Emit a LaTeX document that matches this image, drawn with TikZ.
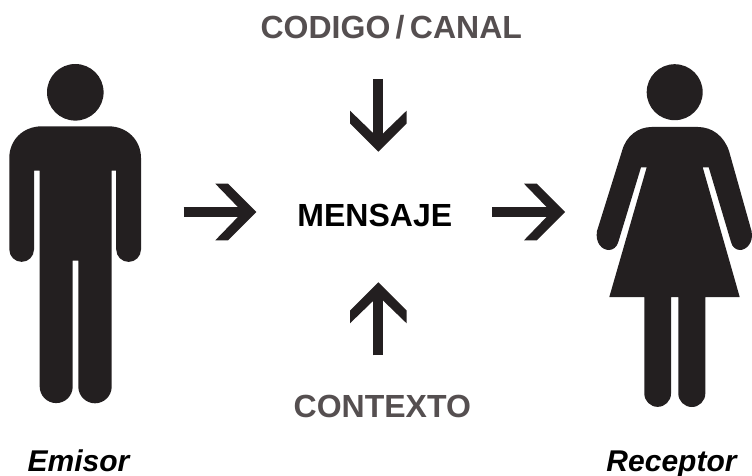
\documentclass[tikz,border=0pt]{standalone}
\usepackage{fontspec}
\setmainfont{Liberation Sans}
\usetikzlibrary{arrows.meta}
\definecolor{ink}{HTML}{231F20}
\definecolor{graytext}{HTML}{554F50}
\pgfdeclarearrow{
  name=SignHead,
  setup code={
    \pgfarrowssettipend{0pt}
    \pgfarrowssetlineend{-15pt}
    \pgfarrowssetvisualtipend{0pt}
    \pgfarrowssetbackend{-41pt}
    \pgfarrowssetvisualbackend{-15pt}
    \pgfarrowshullpoint{0pt}{0pt}
    \pgfarrowshullpoint{-41pt}{28.3pt}
    \pgfarrowshullpoint{-41pt}{-28.3pt}
  },
  drawing code={
    \pgfpathmoveto{\pgfqpoint{0pt}{0pt}}
    \pgfpathlineto{\pgfqpoint{-28.3pt}{28.3pt}}
    \pgfpathlineto{\pgfqpoint{-41pt}{28.3pt}}
    \pgfpathlineto{\pgfqpoint{-18.3pt}{4.85pt}}
    \pgfpathlineto{\pgfqpoint{-18.3pt}{-4.85pt}}
    \pgfpathlineto{\pgfqpoint{-41pt}{-28.3pt}}
    \pgfpathlineto{\pgfqpoint{-28.3pt}{-28.3pt}}
    \pgfpathclose
    \pgfusepathqfill
  }
}
\tikzset{
  silhouette/.style={fill=ink,draw=none},
  flow/.style={draw=ink,line width=9.7pt,-{SignHead}},
  heading/.style={font=\bfseries\fontsize{32}{34}\selectfont,inner sep=0pt,anchor=base,text=graytext},
  central/.style={font=\bfseries\fontsize{32}{34}\selectfont,inner sep=0pt,anchor=base,text=black},
  person/.style={font=\bfseries\itshape\fontsize{30}{32}\selectfont,inner sep=0pt,anchor=base,text=black}
}
\begin{document}
\begin{tikzpicture}[x=1pt,y=-1pt]
\useasboundingbox (0,0) rectangle (752,476);
% man
\fill[silhouette] (75.3,92.3) circle[radius=28.3];
\fill[silhouette] (42,126.3) -- (108.5,126.3)
  .. controls (127,126.3) and (141,140) .. (141,158)
  -- (141,249.5) arc[start angle=0,end angle=180,radius=12.4] -- (116.2,170.7)
  -- (111.7,170.7) -- (111.7,386.6) arc[start angle=0,end angle=180,radius=16.7]
  -- (78.3,260.7) -- (72.7,260.7) -- (72.7,386.6)
  arc[start angle=0,end angle=180,radius=16.5] -- (39.7,170.7) -- (34,170.7)
  -- (34,249.5) arc[start angle=0,end angle=180,radius=12.35] -- (9.3,158)
  .. controls (9.3,140) and (23,126.3) .. (42,126.3) -- cycle;
% woman
\fill[silhouette] (674.7,92.2) circle[radius=28];
\fill[silhouette] (651.7,127) -- (698,127)
  .. controls (712,127) and (724,136) .. (729,151)
  -- (751.5,231) .. controls (754,243) and (746,250) .. (740,250)
  .. controls (736,250) and (732,247) .. (731,242)
  -- (708.7,167.3) -- (702.7,167.3) -- (739.7,297) -- (705.3,297)
  -- (705.3,393.5) arc[start angle=0,end angle=180,radius=13.5]
  -- (678.3,297) -- (671,297) -- (671,393.5)
  arc[start angle=0,end angle=180,radius=13.35] -- (644.3,297) -- (609.3,297)
  -- (646.7,167.3) -- (641,167.3) -- (618.3,242)
  .. controls (617,247) and (613,250) .. (609,250)
  .. controls (602,250) and (595,243) .. (597,231)
  -- (622,151) .. controls (626,136) and (638,127) .. (651.7,127) -- cycle;
% labels
\node[heading] (codigo) at (391.3,39) {CODIGO\,/\,CANAL};
\node[central] (mensaje) at (374.8,226) {MENSAJE};
\node[heading] (contexto) at (382.3,417.5) {CONTEXTO};
\node[person] (emisor) at (78.5,471) {Emisor};
\node[person] (receptor) at (671.5,471) {Receptor};
% arrows
\coordinate (inA) at (183.7,212);  \coordinate (inB) at (256.3,212);
\coordinate (outA) at (492.3,212); \coordinate (outB) at (565,212);
\coordinate (topA) at (378.3,79);  \coordinate (topB) at (378.3,151.7);
\coordinate (botA) at (378.3,355.3); \coordinate (botB) at (378.3,282.3);
\draw[flow] (inA) -- (inB);
\draw[flow] (outA) -- (outB);
\draw[flow] (topA) -- (topB);
\draw[flow] (botA) -- (botB);
\end{tikzpicture}
\end{document}
